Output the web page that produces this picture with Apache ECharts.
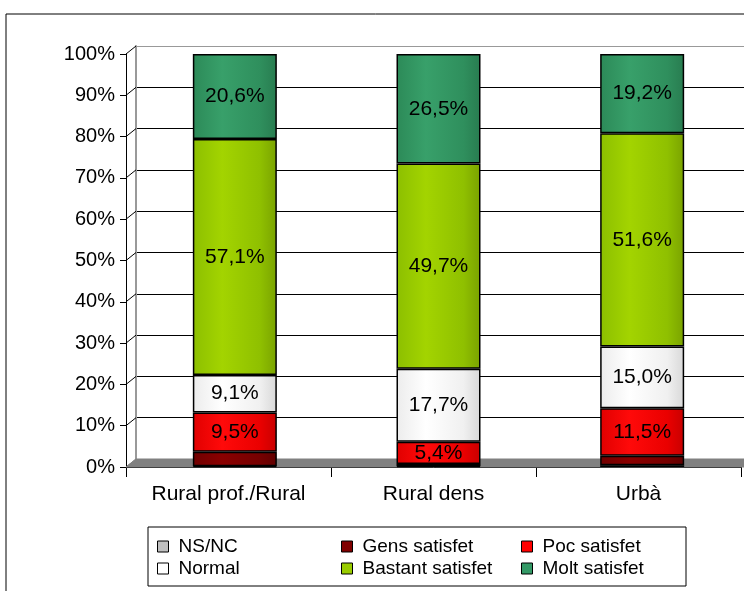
<!DOCTYPE html>
<html>
<head>
<meta charset="utf-8">
<script src="https://cdn.jsdelivr.net/npm/echarts@6/dist/echarts.min.js"></script>
<style>
  html, body { margin: 0; padding: 0; background: #fff; }
  #chart { width: 744px; height: 591px; }
</style>
</head>
<body>
<div id="chart"></div>
<script>
const categories = ['Rural prof./Rural', 'Rural dens', 'Urbà']
const yTicks = [0, 10, 20, 30, 40, 50, 60, 70, 80, 90, 100]

const nsnc = [0.2, 0.2, 0.4]
const gens = [3.5, 0.5, 2.3]
const poc = [9.5, 5.4, 11.5]
const normal = [9.1, 17.7, 15.0]
const bastant = [57.1, 49.7, 51.6]
const molt = [20.6, 26.5, 19.2]

const font = '"Liberation Sans", Arial, sans-serif'

function grad(c0, c1, c2, c3) {
  return new echarts.graphic.LinearGradient(0, 0, 1, 0, [
    { offset: 0, color: c0 },
    { offset: 0.35, color: c1 },
    { offset: 0.8, color: c2 },
    { offset: 1, color: c3 }
  ])
}

const seriesDefs = [
  { name: 'NS/NC', data: nsnc, color: grad('#b0b0b0', '#cfcfcf', '#b8b8b8', '#a0a0a0'), legend: '#c0c0c0', label: false },
  { name: 'Gens satisfet', data: gens, color: grad('#700000', '#8a0000', '#760000', '#600000'), legend: '#800000', label: false },
  { name: 'Poc satisfet', data: poc, color: grad('#e00000', '#ff0a0a', '#ea0000', '#c80000'), legend: '#ff0000', label: true },
  { name: 'Normal', data: normal, color: grad('#ececec', '#ffffff', '#f0f0f0', '#d8d8d8'), legend: '#ffffff', label: true },
  { name: 'Bastant satisfet', data: bastant, color: grad('#8cbf00', '#a3d400', '#8fc000', '#7aa300'), legend: '#99cc00', label: true },
  { name: 'Molt satisfet', data: molt, color: grad('#2c8a58', '#38a06a', '#2f8f5d', '#287c50'), legend: '#339966', label: true }
]

const chart = echarts.init(document.getElementById('chart'))

const series = seriesDefs.map(s => ({
  name: s.name,
  type: 'bar',
  stack: 'total',
  xAxisIndex: 1,
  yAxisIndex: 1,
  barWidth: 84,
  data: s.data,
  itemStyle: { color: s.color, borderColor: '#000', borderWidth: 1.5 },
  label: {
    show: s.label,
    position: 'inside',
    color: '#000',
    fontFamily: font,
    fontSize: 21,
    formatter: p => p.value.toFixed(1).replace('.', ',') + '%'
  }
}))

const legendItem = name => {
  const s = seriesDefs.find(d => d.name === name)
  return { name, itemStyle: { color: s.legend, borderColor: '#000', borderWidth: 1 } }
}
const legendBase = {
  orient: 'vertical',
  top: 537,
  itemWidth: 11,
  itemHeight: 11,
  itemGap: 3,
  icon: 'rect',
  selectedMode: false,
  textStyle: { fontFamily: font, fontSize: 19, color: '#000', padding: [0, 0, 0, 5] },
  padding: 0
}

const splitColors = yTicks.map((t, i) => (i === 0 || i === yTicks.length - 1) ? '#999' : '#000')

const option = {
  animation: false,
  grid: [
    // back wall
    { left: 136, top: 46, width: 620, height: 413 },
    // bars
    { left: 133, top: 54, width: 615, height: 413 },
    // front axes
    { left: 126, top: 54, width: 615, height: 413 }
  ],
  xAxis: [
    { gridIndex: 0, type: 'category', data: categories, show: false },
    { gridIndex: 1, type: 'category', data: categories, show: false },
    {
      gridIndex: 2,
      type: 'category',
      data: categories,
      axisLine: { lineStyle: { color: '#000', width: 1 } },
      axisTick: { show: true, length: 10, lineStyle: { color: '#000' } },
      axisLabel: { color: '#000', fontFamily: font, fontSize: 21, margin: 17 }
    }
  ],
  yAxis: [
    {
      gridIndex: 0, min: 0, max: 100, interval: 10,
      axisLine: { show: true, lineStyle: { color: '#999', width: 2 } },
      axisTick: { show: false },
      axisLabel: { show: false },
      splitLine: { show: true, lineStyle: { color: splitColors, width: 1 } }
    },
    { gridIndex: 1, min: 0, max: 100, interval: 10, show: false },
    {
      gridIndex: 2, min: 0, max: 100, interval: 10,
      axisLine: { show: true, lineStyle: { color: '#000', width: 1 } },
      axisTick: { show: true, length: 6, lineStyle: { color: '#000' } },
      splitLine: { show: false },
      axisLabel: {
        color: '#000', fontFamily: font, fontSize: 20, margin: 11,
        formatter: v => v + '%'
      }
    }
  ],
  legend: [
    Object.assign({}, legendBase, { left: 157, data: ['NS/NC', 'Normal'].map(legendItem) }),
    Object.assign({}, legendBase, { left: 341, data: ['Gens satisfet', 'Bastant satisfet'].map(legendItem) }),
    Object.assign({}, legendBase, { left: 521, data: ['Poc satisfet', 'Molt satisfet'].map(legendItem) })
  ],
  series: series
}

chart.setOption(option)

// 3D-ish decoration: floor, wall connectors, legend box and outer frame
const p0 = chart.convertToPixel({ yAxisIndex: 2 }, 0)
const axisX = 126
const depth = 10
const lift = 8
const elements = [
  {
    type: 'rect',
    shape: { x: 6, y: 14, width: 800, height: 700 },
    style: { fill: 'none', stroke: '#000', lineWidth: 1 },
    z: 0
  },
  {
    type: 'polygon',
    shape: { points: [[axisX, p0], [axisX + depth, p0 - lift], [760, p0 - lift], [760, p0]] },
    style: { fill: '#808080', stroke: '#808080' },
    z: 1
  },
  {
    type: 'rect',
    shape: { x: 148, y: 527, width: 538, height: 59 },
    style: { fill: 'none', stroke: '#000', lineWidth: 1 },
    z: 1
  }
]
yTicks.forEach(t => {
  const py = chart.convertToPixel({ yAxisIndex: 2 }, t)
  elements.push({
    type: 'line',
    shape: { x1: axisX, y1: py, x2: axisX + depth, y2: py - lift },
    style: { stroke: t === 0 ? '#808080' : '#000', lineWidth: 1 },
    z: 1
  })
})
chart.setOption({ graphic: { elements } })
</script>
</body>
</html>
